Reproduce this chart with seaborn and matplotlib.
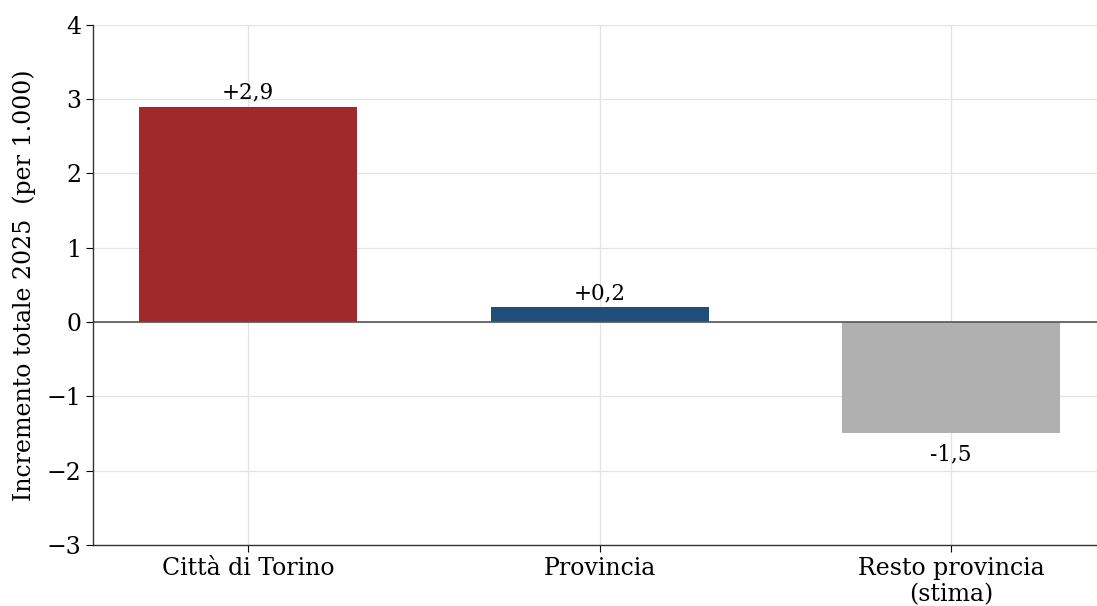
import matplotlib
matplotlib.use("Agg")
import matplotlib.pyplot as plt
import seaborn as sns
import pandas as pd

categorie = ["Città di Torino", "Provincia", "Resto provincia\n(stima)"]
incremento = [2.9, 0.2, -1.5]
etichette = ["+2,9", "+0,2", "-1,5"]
colori = ["#9E2A2B", "#1F4E79", "#B0B0B0"]

df = pd.DataFrame({"area": categorie, "valore": incremento})

sns.set_style("whitegrid")
plt.rcParams["font.family"] = ["DejaVu Serif"]
plt.rcParams["text.color"] = "black"
plt.rcParams["axes.labelcolor"] = "black"
plt.rcParams["xtick.color"] = "black"
plt.rcParams["ytick.color"] = "black"

fig, ax = plt.subplots(figsize=(10.97, 6.06), dpi=100)
fig.subplots_adjust(left=0.085, right=1.0, top=0.959, bottom=0.101)

sns.barplot(data=df, x="area", y="valore", hue="area", palette=colori,
            width=0.62, saturation=1, legend=False, linewidth=0, ax=ax)

for i, (v, t) in enumerate(zip(incremento, etichette)):
    if v >= 0:
        ax.annotate(t, (i, v), xytext=(0, 2), textcoords="offset points",
                    ha="center", va="bottom", fontsize=15.5)
    else:
        ax.annotate(t, (i, v), xytext=(0, -7), textcoords="offset points",
                    ha="center", va="top", fontsize=15.5)

ax.axhline(0, color="#555555", linewidth=1.2)
ax.set_ylim(-3, 4)
ax.set_xlim(-0.44, 2.415)
ax.set_xlabel("")
ax.set_ylabel("Incremento totale 2025  (per 1.000)", fontsize=17, labelpad=7.5)
ax.tick_params(axis="both", labelsize=17, length=5)
ax.tick_params(axis="both", which="both", bottom=True, left=True)
ax.grid(True, color="#E3E3E3", linewidth=0.9)
ax.set_axisbelow(True)
sns.despine(ax=ax)
for s in ["left", "bottom"]:
    ax.spines[s].set_color("#333333")
    ax.spines[s].set_linewidth(1.0)

fig.savefig("out.png", dpi=100)
